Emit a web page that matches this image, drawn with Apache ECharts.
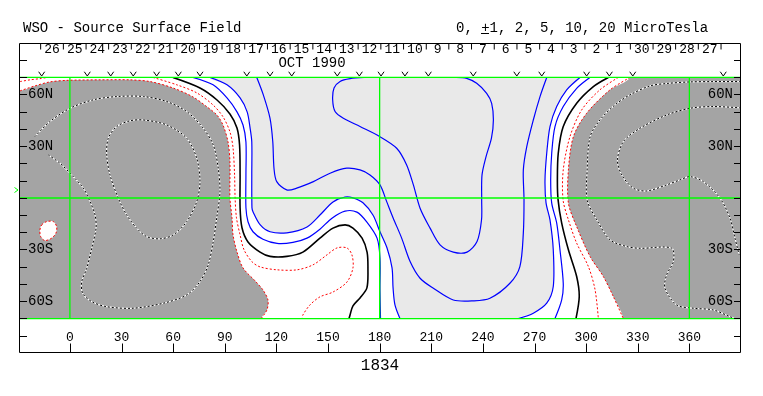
<!DOCTYPE html>
<html>
<head>
<meta charset="utf-8">
<title>WSO - Source Surface Field</title>
<script src="https://cdn.jsdelivr.net/npm/echarts@6/dist/echarts.min.js"></script>
<style>
  html, body { margin: 0; padding: 0; background: #fff; }
  #main { width: 763px; height: 396px; }
</style>
</head>
<body>
<div id="main"></div>
<script>
// axis ticks / labels
var lonTicks = [0, 30, 60, 90, 120, 150, 180, 210, 240, 270, 300, 330, 360];
var latTicks = [-80, -70, -60, -50, -40, -30, -20, -10, 0, 10, 20, 30, 40, 50, 60, 70, 80];
var latLabels = [60, 30, -30, -60];
var greenLat = [70, 0, -70];
var greenLon = [0, 180, 360];

// carrington day boundaries (longitude) and day numbers, OCT 1990
var dayBounds = [-17.0, -3.8, 9.4, 22.5, 35.7, 48.9, 62.1, 75.3, 88.4, 101.6, 114.8, 128.0, 141.2, 154.3, 167.5,
  180.7, 193.9, 207.1, 220.2, 233.4, 246.6, 259.8, 273.0, 286.1, 299.3, 312.5, 325.7, 338.9, 352.0, 365.2, 378.4];
var dayLabels = ['26', '25', '24', '23', '22', '21', '20', '19', '18', '17', '16', '15', '14', '13', '12',
  '11', '10', '9', '8', '7', '6', '5', '4', '3', '2', '1', '30', '29', '28', '27'];
// observation markers along the top
var obsLon = [-16.4, 10.1, 23.7, 36.8, 50.4, 63.0, 75.6, 102.8, 116.3, 128.9, 155.4, 168.2, 180.8,
  194.7, 208.3, 234.4, 259.7, 274.2, 300.3, 313.5, 327.1, 379.7];

// contours [lon, lat]
var greyWest = [[-29, 62.2], [-20.3, 65.1], [-11.6, 67.4], [-1.7, 68.3], [17.5, 68.6], [34.9, 68.6], [46.6, 67.6],
  [59.9, 63.9], [71.5, 58.7], [79.7, 52.9], [85.5, 48.1], [89.0, 42.3], [91.9, 32.5], [93.0, 21.0], [93.0, 0.1],
  [94.2, -11.5], [94.8, -21.4], [97.1, -31.3], [100.6, -40.6], [107.6, -48.1], [112.2, -53.4], [115.1, -59.2],
  [114.5, -65.0], [111.1, -70]];
var redCorner = [[-29, 67.6], [-23.2, 68.6], [-17.4, 69.3], [-13.3, 70]];
var redWest = [[48.3, 70], [62.2, 65.7], [73.8, 61.0], [83.2, 54.0], [89.0, 47.1], [93.0, 38.4], [94.8, 29.1],
  [95.7, 13.4], [96.0, 0.1], [96.8, -11.5], [98.9, -21.4], [101.2, -30.1], [105.9, -37.1], [110.5, -40.0],
  [120.4, -41.7], [132.0, -41.7], [141.3, -38.8], [149.4, -33.0], [155.2, -29.0], [161.0, -29.0], [163.9, -33.0],
  [164.5, -40.6], [161.0, -48.8], [152.9, -54.6], [145.3, -57.4], [139.5, -62.1], [135.4, -67.9], [134.9, -70]];
var neutralWest = [[59.9, 70], [75.6, 63.9], [85.5, 56.9], [93.0, 48.8], [97.1, 40.7], [98.6, 30.8], [98.9, 13.4],
  [98.9, -5.7], [100.0, -17.3], [103.5, -25.5], [110.5, -31.4], [116.3, -33.9], [126.1, -33.9], [135.4, -31.4],
  [145.3, -23.3], [152.9, -17.5], [159.9, -15.6], [164.5, -17.5], [169.8, -23.3], [172.7, -31.4], [173.2, -40.6],
  [172.6, -52.2], [168.6, -58.0], [164.5, -62.6], [162.8, -67.9], [162.2, -70]];
var blueA = [[71.5, 70], [83.2, 65.7], [91.3, 58.1], [97.1, 50.0], [100.6, 42.4], [102.3, 32.5], [102.3, 13.4],
  [102.3, -5.7], [103.5, -13.8], [106.4, -19.6], [112.2, -24.0], [120.4, -26.4], [129.6, -25.8], [137.8, -23.3],
  [145.3, -18.1], [152.3, -11.7], [159.9, -7.6], [166.8, -8.2], [172.6, -14.0], [178.5, -23.3], [180.2, -34.8],
  [180.2, -53.3], [180.5, -70]];
var blueB = [[81.4, 70], [91.3, 65.7], [98.9, 58.1], [103.0, 50.0], [104.7, 40.7], [105.7, 32.5], [105.7, 13.4],
  [105.8, -5.7], [106.4, -8.0], [110.5, -15.5], [116.3, -19.6], [126.1, -20.2], [137.8, -16.8], [145.3, -9.9],
  [152.9, -2.3], [159.9, 0.6], [164.5, 0.1], [170.3, -2.8], [176.1, -9.9], [180.2, -19.6], [184.3, -29.0],
  [187.2, -40.6], [187.8, -52.2], [188.9, -62.1], [191.8, -70]];
var c1 = [[108.6, 70], [112.4, 59.9], [116.3, 46.3], [117.9, 32.7], [118.6, 17.3], [120.2, 9.5], [126.0, 4.7],
  [131.8, 5.7], [141.5, 9.5], [151.2, 14.4], [160.9, 17.3], [168.6, 16.3], [174.4, 13.4], [180.2, 7.6],
  [184.1, -2.1], [187.9, -11.7], [192.8, -23.3], [197.7, -36.9], [203.5, -46.6], [211.2, -52.4], [222.8, -59.2],
  [234.4, -59.7], [244.1, -58.2], [255.7, -49.5], [261.5, -39.8], [263.5, -20.4], [263.9, -1.1], [263.5, 16.3],
  [265.5, 29.8], [269.3, 45.3], [273.2, 58.9], [277.1, 70]];
var c2 = [[171.0, 70], [162.8, 69.3], [157.0, 67.7], [153.5, 63.9], [152.7, 57.0], [154.1, 50.2], [158.9, 46.3],
  [168.6, 41.5], [180.2, 35.6], [189.9, 28.9], [195.7, 19.2], [199.6, 7.6], [203.5, -5.9], [209.3, -17.5],
  [215.1, -27.2], [222.8, -31.4], [230.8, -31.4], [236.6, -25.3], [239.2, -12.8], [239.3, -1.1], [239.5, 13.4],
  [241.8, 23.9], [245.0, 34.9], [246.1, 45.3], [245.1, 55.0], [242.2, 60.8], [236.4, 66.6], [230.6, 69.5],
  [224.4, 70]];
var r2 = [[296.4, 70], [288.7, 62.8], [282.9, 53.1], [279.0, 41.5], [277.1, 26.0], [276.1, 10.5], [276.7, -2.8],
  [279.0, -12.7], [280.9, -30.1], [280.9, -51.4], [277.1, -61.1], [269.3, -66.9], [260.6, -70]];
var r3 = [[302.2, 70], [294.5, 63.7], [286.7, 53.1], [281.9, 41.5], [280.0, 26.0], [279.4, 10.5], [280.0, -3.0],
  [282.9, -14.6], [284.8, -30.1], [286.7, -49.5], [285.8, -59.2], [281.9, -70]];
var neutralEast = [[312.9, 70], [304.2, 64.7], [294.5, 55.0], [286.7, 41.5], [283.8, 26.0], [283.3, 10.5],
  [283.7, -1.1], [285.8, -14.6], [289.7, -30.1], [294.5, -45.6], [296.0, -57.2], [294.1, -70]];
var redEast = [[318.7, 70], [308.0, 62.8], [297.4, 51.1], [290.6, 35.6], [286.7, 16.3], [286.6, -1.1],
  [289.7, -12.7], [294.5, -26.2], [301.3, -39.8], [305.2, -53.3], [307.1, -70]];
var greyEast = [[325.5, 70], [313.9, 62.8], [300.3, 49.2], [292.6, 35.6], [289.7, 16.3], [289.7, -3.0],
  [294.5, -16.6], [302.3, -34.0], [310.0, -45.6], [315.8, -57.2], [321.6, -70]];
var negEastOuter = [[390, 67.6], [373.7, 67.6], [360.4, 67.4], [347.0, 66.5], [337.2, 65.1], [325.5, 59.9],
  [316.8, 54.1], [308.1, 45.4], [302.3, 35.5], [300.6, 16.3], [300.6, -1.1], [306.2, -12.7], [313.9, -24.3],
  [323.6, -28.2], [331.3, -29.2], [349.7, -29.1], [350.7, -36.9], [346.8, -44.6], [345.8, -52.4], [352.6, -62.1],
  [362.3, -64.0], [373.9, -65.0], [383.6, -68.9], [386.5, -70]];
var negEastInner = [[390, 52.3], [373.9, 53.1], [360.4, 52.1], [346.8, 48.2], [331.3, 40.5], [321.6, 32.7],
  [318.2, 22.1], [320.7, 13.4], [327.4, 5.7], [335.2, 4.1], [346.8, 7.6], [354.5, 10.5], [360.4, 12.4],
  [368.1, 9.5], [377.8, -0.1], [383.6, -11.7], [386.5, -23.3], [388.9, -33.0]];
var negWestOuter = [[-20.3, 35.6], [-11.6, 44.4], [0.1, 52.1], [13.6, 57.0], [27.2, 58.9], [42.7, 58.9],
  [56.3, 56.0], [67.9, 50.2], [77.5, 40.5], [83.3, 30.8], [86.2, 17.3], [87.2, 3.7], [85.3, -11.7], [83.3, -25.3],
  [80.4, -38.8], [75.6, -48.5], [67.9, -56.3], [54.3, -61.1], [36.8, -64.0], [21.4, -63.1], [12.7, -60.2],
  [7.4, -55.3], [6.9, -48.5], [9.8, -40.8], [12.7, -29.1], [15.2, -17.5], [14.6, -9.8], [11.7, -2.1], [7.8, 5.7],
  [1.0, 13.4], [-5.8, 20.2], [-12.6, 25.0]];
var negWestInner = [[42.7, 45.3], [56.3, 42.4], [67.9, 34.7], [73.7, 23.1], [75.6, 9.5], [73.7, -2.1],
  [67.9, -13.7], [60.1, -21.4], [52.4, -23.7], [44.6, -22.4], [38.8, -17.5], [33.0, -9.8], [28.1, -0.1],
  [23.3, 13.4], [21.4, 25.0], [22.3, 34.7], [27.2, 41.5], [34.9, 44.8]];
var posIsland = [[-16.4, -15.6], [-13.5, -13.7], [-9.6, -13.7], [-7.7, -16.6], [-8.1, -20.4], [-10.6, -23.3],
  [-14.5, -24.7], [-17.0, -22.4], [-17.4, -18.5]];

var DARK = '#a4a4a4', LIGHT = '#e9e9e9';
var FONT = '"Liberation Mono", "DejaVu Sans Mono", monospace';

// filled areas run past the map edge so the rounding stays outside the clip
var darkWest = [[-45, 60]].concat(greyWest, [[109, -85], [-45, -85]]);
var darkEast = greyEast.concat([[320, -85], [400, -85], [400, 85], [327, 85]]);
var lightPoly = blueB.concat([[193, -85], [259, -85]], r2.slice().reverse(), [[298, 85], [80, 85]]);

function mapShape(pts, closed, style, z) {
  return {
    type: 'custom', coordinateSystem: 'cartesian2d', xAxisIndex: 1, yAxisIndex: 2,
    silent: true, clip: true, z: z, data: [[0, 0]],
    renderItem: function (params, api) {
      return {
        type: closed ? 'polygon' : 'polyline',
        shape: { points: pts.map(function (p) { return api.coord(p); }), smooth: 0.3 },
        style: style
      };
    }
  };
}
function line(color, width, dash) {
  return { fill: 'none', stroke: color, lineWidth: width, lineDash: dash || null };
}

var series = [
  mapShape(lightPoly, true, { fill: LIGHT }, 1),
  mapShape(darkWest, true, { fill: DARK }, 2),
  mapShape(darkEast, true, { fill: DARK }, 2),
  mapShape(posIsland, true, { fill: '#fff' }, 3)
];
[negWestOuter, negEastOuter, negEastInner].forEach(function (c) {
  series.push(mapShape(c, false, line('#fff', 1.2), 4));
  series.push(mapShape(c, false, line('#000', 1, [2, 2]), 4));
});
series.push(mapShape(negWestInner, true, { fill: 'none', stroke: '#fff', lineWidth: 1.2 }, 4));
series.push(mapShape(negWestInner, true, { fill: 'none', stroke: '#000', lineWidth: 1, lineDash: [2, 2] }, 4));
[greyWest, redWest, redCorner, redEast, greyEast].forEach(function (c) {
  series.push(mapShape(c, false, line('#ff0000', 1, [2, 2]), 5));
});
series.push(mapShape(posIsland, true, { fill: 'none', stroke: '#ff0000', lineWidth: 1, lineDash: [2, 2] }, 5));
[neutralWest, neutralEast].forEach(function (c) {
  series.push(mapShape(c, false, line('#000', 1.6), 5));
});
[blueA, blueB, c1, c2, r2, r3].forEach(function (c) {
  series.push(mapShape(c, false, line('#0000ff', 1.2), 5));
});

// frame decorations on the outer grid
function frameSeries(z, build) {
  return {
    type: 'custom', coordinateSystem: 'cartesian2d', xAxisIndex: 0, yAxisIndex: 0,
    silent: true, clip: false, z: z, data: [[0, 0]],
    renderItem: function (params, api) { return { type: 'group', children: build(api) }; }
  };
}
series.push(frameSeries(6, function (api) {
  var out = [];
  greenLat.forEach(function (lat) {
    var a = api.coord([-29, lat]), b = api.coord([390, lat]);
    out.push({ type: 'line', shape: { x1: a[0], y1: a[1], x2: b[0], y2: b[1] }, style: { stroke: '#00ff00', lineWidth: 1.3 } });
  });
  greenLon.forEach(function (lon) {
    var a = api.coord([lon, 70]), b = api.coord([lon, -70]);
    out.push({ type: 'line', shape: { x1: a[0], y1: a[1], x2: b[0], y2: b[1] }, style: { stroke: '#00ff00', lineWidth: 1.3 } });
  });
  return out;
}));
series.push(frameSeries(7, function (api) {
  var out = [];
  obsLon.forEach(function (lon) {
    var p = api.coord([lon, 70]);
    out.push({ type: 'polyline', shape: { points: [[p[0] - 3, p[1] - 5.7], [p[0], p[1] - 1.4], [p[0] + 3, p[1] - 5.7]] },
      style: { fill: 'none', stroke: '#000', lineWidth: 1 } });
  });
  dayBounds.forEach(function (lon) {
    var p = api.coord([lon, 90]);
    out.push({ type: 'line', shape: { x1: p[0], y1: p[1] + 1, x2: p[0], y2: p[1] + 6.5 }, style: { stroke: '#000', lineWidth: 1 } });
  });
  dayLabels.forEach(function (t, i) {
    var p = api.coord([(dayBounds[i] + dayBounds[i + 1]) / 2, 86]);
    out.push({ type: 'text', x: p[0], y: p[1], style: { text: t, font: '13px ' + FONT, fill: '#000', align: 'center', verticalAlign: 'middle' } });
  });
  // longitude ticks up from the bottom frame
  lonTicks.forEach(function (lon) {
    var p = api.coord([lon, -90]);
    var x = Math.round(p[0]) + 0.5;
    out.push({ type: 'line', shape: { x1: x, y1: p[1] - 9.5, x2: x, y2: p[1] - 0.5 }, style: { stroke: '#000', lineWidth: 1 } });
  });
  return out;
}));

var latFmt = function (v) { return Math.abs(v) + (v > 0 ? 'N' : 'S'); };
function latAxis(pos) {
  return {
    type: 'value', gridIndex: 0, position: pos, min: -90, max: 90, z: 10,
    axisLine: { show: false, onZero: false }, splitLine: { show: false },
    axisTick: { show: true, inside: true, length: 7, customValues: latTicks, lineStyle: { color: '#000', width: 1 } },
    axisLabel: { show: true, inside: true, margin: 8, customValues: latLabels, formatter: latFmt,
      fontFamily: FONT, fontSize: 14, color: '#000' }
  };
}

var chart = echarts.init(document.getElementById('main'), null, { renderer: 'canvas' });
chart.setOption({
  animation: false,
  backgroundColor: '#fff',
  grid: [
    { left: 20, top: 43, width: 721, height: 310, show: false },
    { left: 20, top: 77.44, width: 721, height: 241.12, show: false }
  ],
  xAxis: [
    { type: 'value', gridIndex: 0, position: 'bottom', min: -29, max: 390, z: 10,
      axisLine: { show: false, onZero: false }, splitLine: { show: false }, axisTick: { show: false },
      axisLabel: { show: true, inside: true, margin: 9, customValues: lonTicks, fontFamily: FONT, fontSize: 13, color: '#000' } },
    { type: 'value', gridIndex: 1, min: -29, max: 390, show: false }
  ],
  yAxis: [
    latAxis('left'),
    latAxis('right'),
    { type: 'value', gridIndex: 1, min: -70, max: 70, show: false }
  ],
  graphic: [
    { type: 'text', x: 23, y: 28, style: { text: 'WSO - Source Surface Field', font: '14px ' + FONT, fill: '#000', verticalAlign: 'middle' } },
    { type: 'text', x: 456, y: 28, style: { text: '0, +1, 2, 5, 10, 20 MicroTesla', font: '14px ' + FONT, fill: '#000', verticalAlign: 'middle' } },
    { type: 'line', shape: { x1: 481, y1: 33.5, x2: 489, y2: 33.5 }, style: { stroke: '#000', lineWidth: 1 } },
    { type: 'text', x: 312, y: 63, style: { text: 'OCT 1990', font: '14px ' + FONT, fill: '#000', align: 'center', verticalAlign: 'middle' } },
    { type: 'text', x: 380, y: 366, style: { text: '1834', font: '16px ' + FONT, fill: '#000', align: 'center', verticalAlign: 'middle' } },
    { type: 'polyline', shape: { points: [[14.5, 187.5], [18, 190], [14.5, 192.5]] }, style: { fill: 'none', stroke: '#00ff00', lineWidth: 1 } },
    { type: 'rect', z: 100, shape: { x: 19.5, y: 43.5, width: 721, height: 309 }, style: { fill: 'none', stroke: '#000', lineWidth: 1 } }
  ],
  series: series
});
</script>
</body>
</html>
